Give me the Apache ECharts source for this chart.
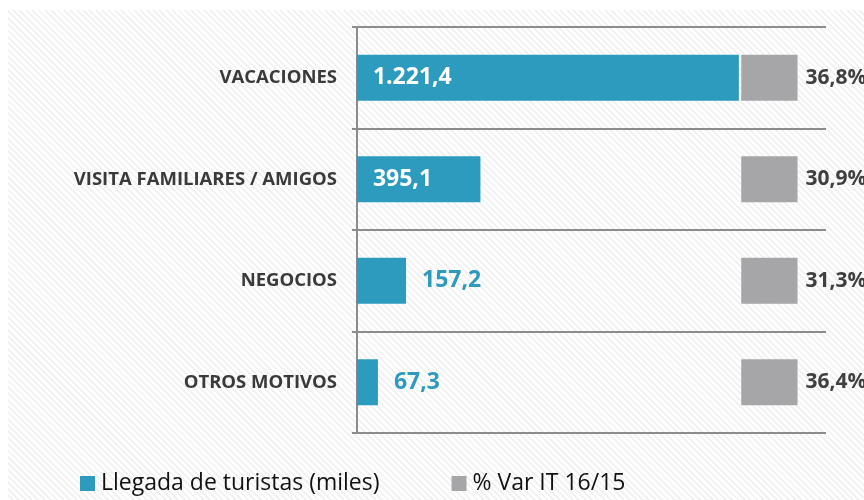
<!DOCTYPE html>
<html>
<head>
<meta charset="utf-8">
<script src="https://cdn.jsdelivr.net/npm/echarts@6/dist/echarts.min.js"></script>
<style>
  html, body { margin: 0; padding: 0; background: #fff; }
  #wrap { position: relative; width: 864px; height: 500px; overflow: hidden; }
  /* fondo rayado */
  #fondo {
    position: absolute; left: 8px; top: 10px; right: 0; bottom: 0;
    background: repeating-linear-gradient(45deg, #ffffff 0px, #ffffff 2.5px, #f2f2f2 2.5px, #f2f2f2 4.5px);
  }
  #chart { position: absolute; left: 0; top: 0; width: 864px; height: 500px; }
</style>
</head>
<body>
<div id="wrap">
  <div id="fondo"></div>
  <div id="chart"></div>
</div>
<script>
// datos
var motivos = ["VACACIONES", "VISITA FAMILIARES / AMIGOS", "NEGOCIOS", "OTROS MOTIVOS"];
var llegadas = [1221.4, 395.1, 157.2, 67.3];
var variacion = [36.8, 30.9, 31.3, 36.4];

var AZUL = "#2d9bbd";
var GRIS = "#a6a6a9";
// posición fija del cuadro gris
var GRIS_INICIO = 1229;
var GRIS_LARGO = 180;

// 1221.4 -> "1.221,4"
function fmt(v) {
  var p = v.toFixed(1).split(".");
  var ent = p[0].replace(/\B(?=(\d{3})+(?!\d))/g, ".");
  return ent + "," + p[1];
}

var chart = echarts.init(document.getElementById("chart"));

var option = {
  animation: false,
  backgroundColor: "transparent",
  textStyle: { fontFamily: "Open Sans" },
  grid: { left: 355, right: 38, top: 27, bottom: 67 },
  legend: {
    data: ["Llegada de turistas (miles)", "% Var IT 16/15"],
    left: 75,
    bottom: 0,
    itemWidth: 15,
    itemHeight: 15,
    itemGap: 72,
    icon: "rect",
    textStyle: { fontSize: 23, color: "#111", fontFamily: "Open Sans", padding: [0, 0, 0, 1] }
  },
  xAxis: {
    type: "value",
    min: -6,
    max: 1500,
    show: false
  },
  yAxis: {
    type: "category",
    inverse: true,
    data: motivos,
    axisLine: { lineStyle: { color: "#8c8c8c", width: 2 } },
    axisTick: { show: true, length: 5, lineStyle: { color: "#8c8c8c", width: 2 } },
    splitLine: { show: true, lineStyle: { color: "#8c8c8c", width: 2 } },
    axisLabel: {
      margin: 18,
      fontSize: 18.5,
      fontWeight: "bold",
      color: "#3a3a3a",
      fontFamily: "Open Sans"
    }
  },
  series: [
    {
      name: "Llegada de turistas (miles)",
      type: "bar",
      stack: "t",
      barWidth: 46,
      itemStyle: { color: AZUL },
      data: llegadas.map(function (v) {
        var dentro = v > 300;
        return {
          value: v,
          label: {
            show: true,
            position: dentro ? "insideLeft" : "right",
            distance: 16,
            color: dentro ? "#ffffff" : AZUL,
            fontSize: 23,
            fontWeight: "bold",
            fontFamily: "Open Sans",
            formatter: function (p) { return fmt(p.value); }
          }
        };
      })
    },
    {
      name: "hueco",
      type: "bar",
      stack: "t",
      silent: true,
      itemStyle: { color: "transparent" },
      data: llegadas.map(function (v) { return GRIS_INICIO - v; })
    },
    {
      name: "% Var IT 16/15",
      type: "bar",
      stack: "t",
      itemStyle: { color: GRIS },
      label: {
        show: true,
        position: "right",
        distance: 8,
        color: "#404040",
        fontSize: 21,
        fontWeight: "bold",
        fontFamily: "Open Sans",
        formatter: function (p) { return fmt(variacion[p.dataIndex]) + "%"; }
      },
      data: variacion.map(function () { return GRIS_LARGO; })
    }
  ]
};

chart.setOption(option);
</script>
</body>
</html>
